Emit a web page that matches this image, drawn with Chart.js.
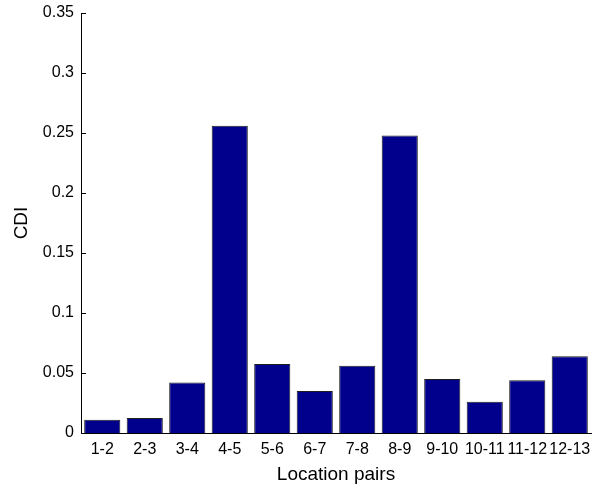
<!DOCTYPE html>
<html>
<head>
<meta charset="utf-8">
<script src="https://cdn.jsdelivr.net/npm/chart.js@4.4.1/dist/chart.umd.min.js"></script>
<style>
  html, body { margin: 0; padding: 0; background: #fff; }
  canvas { display: block; }
</style>
</head>
<body>
<canvas id="cdi-chart" width="592" height="487"></canvas>
<script>
"use strict";

/* --- DATA --- */
const pairs = ['1-2', '2-3', '3-4', '4-5', '5-6', '6-7', '7-8', '8-9', '9-10', '10-11', '11-12', '12-13'];
const cdi = [0.011, 0.0125, 0.042, 0.256, 0.0575, 0.035, 0.056, 0.248, 0.045, 0.026, 0.044, 0.064];
const y_min = 0;
const y_max = 0.35;
const y_step = 0.05;

// matlab style: small tick marks pointing into the plot
const inward_ticks = {
  id: 'inwardTicks',
  afterDatasetsDraw(chart) {
    const y = chart.scales.y;
    const ctx = chart.ctx;
    ctx.save();
    ctx.strokeStyle = '#000';
    ctx.lineWidth = 1;
    ctx.beginPath();
    y.ticks.forEach(t => {
      const py = Math.round(y.getPixelForValue(t.value)) + 0.5;
      ctx.moveTo(chart.chartArea.left, py);
      ctx.lineTo(chart.chartArea.left + 5, py);
    });
    ctx.stroke();
    ctx.restore();
  }
};

const cdi_canvas = document.getElementById('cdi-chart');

let cdi_chart = new Chart(cdi_canvas, {
  type: 'bar',
  data: {
    labels: pairs,
    datasets: [{
      label: 'CDI',
      data: cdi,
      backgroundColor: '#00008C',
      borderColor: '#1e1e1e',
      borderWidth: 1,
      barPercentage: 0.85,
      categoryPercentage: 1
    }]
  },
  options: {
    responsive: false,
    maintainAspectRatio: false,
    animation: false,
    devicePixelRatio: 1,
    layout: {
      padding: { top: 13, right: 1, left: 0, bottom: 0 }
    },
    plugins: {
      legend: { display: false },
      tooltip: { enabled: false },
      title: { display: false }
    },
    scales: {
      x: {
        grid: { display: false, drawTicks: false },
        border: { display: true, color: '#000', width: 1 },
        ticks: {
          color: '#000',
          padding: 7,
          maxRotation: 0,
          autoSkip: false,
          font: { family: 'Liberation Sans, Arial', size: 16 }
        },
        title: {
          display: true,
          text: 'Location pairs',
          color: '#000',
          padding: { top: 0, bottom: 1 },
          font: { family: 'Liberation Sans, Arial', size: 19 }
        },
        afterFit(scale) {
          scale.height = 54;
          scale.paddingLeft = 0;
          scale.paddingRight = 0;
        }
      },
      y: {
        min: y_min,
        max: y_max,
        grid: { display: false, drawTicks: false },
        border: { display: true, color: '#000', width: 1 },
        ticks: {
          stepSize: y_step,
          color: '#000',
          padding: 7,
          font: { family: 'Liberation Sans, Arial', size: 16 },
          callback: v => String(+v.toFixed(2))
        },
        title: {
          display: true,
          text: 'CDI',
          color: '#000',
          padding: { top: 10, bottom: 0 },
          font: { family: 'Liberation Sans, Arial', size: 19 }
        },
        afterFit(scale) {
          scale.width = 81;
          scale.paddingTop = 0;
          scale.paddingBottom = 0;
        }
      }
    }
  },
  plugins: [inward_ticks]
});
</script>
</body>
</html>
